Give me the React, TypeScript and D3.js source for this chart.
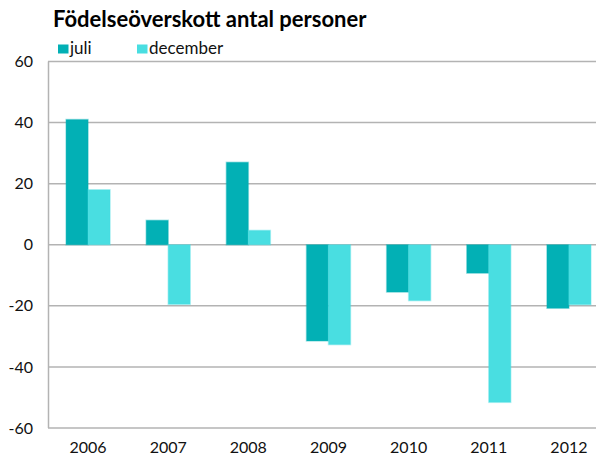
import { useEffect, useRef } from 'react';
import * as d3 from 'd3';

const years = ['2006', '2007', '2008', '2009', '2010', '2011', '2012'];
const juli = [41, 8, 27, -31.5, -15.5, -9.3, -20.8];
const december = [18, -19.5, 4.7, -32.7, -18.3, -51.6, -19.6];
const yTicks = [-60, -40, -20, 0, 20, 40, 60];
const seriesNames = ['juli', 'december'];
const colors = ['#02B0B5', '#49DEE1'];

export default function App() {
  const svgRef = useRef<SVGSVGElement>(null);

  useEffect(() => {
    const width = 596;
    const height = 457;
    const font = 'Lato, "Open Sans", sans-serif';

    const svg = d3.select(svgRef.current);
    svg.selectAll('*').remove();
    svg.attr('width', width).attr('height', height);

    // plot runs a bit past the right edge, like the original crop
    const x = d3.scaleBand().domain(years).range([48, 609]).paddingInner(0).paddingOuter(0);
    const y = d3.scaleLinear().domain([-60, 60]).range([428, 61.5]);

    const groupW = 44;
    const inner = d3.scaleBand().domain(seriesNames).range([0, groupW]);

    // gridlines
    svg
      .append('g')
      .selectAll('line')
      .data(yTicks)
      .enter()
      .append('line')
      .attr('x1', 48)
      .attr('x2', width)
      .attr('y1', (d) => y(d))
      .attr('y2', (d) => y(d))
      .attr('stroke', '#b3b3b3')
      .attr('stroke-width', 1.5);

    // y axis line
    svg
      .append('line')
      .attr('x1', 48.5)
      .attr('x2', 48.5)
      .attr('y1', y(60))
      .attr('y2', y(-60))
      .attr('stroke', '#b3b3b3')
      .attr('stroke-width', 1.5);

    // y labels
    svg
      .append('g')
      .selectAll('text')
      .data(yTicks)
      .enter()
      .append('text')
      .attr('x', 33)
      .attr('y', (d) => y(d))
      .attr('dy', '0.35em')
      .attr('text-anchor', 'end')
      .style('font-family', font)
      .style('font-size', '16px')
      .attr('fill', '#111')
      .text((d) => String(d));

    // x labels
    svg
      .append('g')
      .selectAll('text')
      .data(years)
      .enter()
      .append('text')
      .attr('x', (d) => (x(d) as number) + x.bandwidth() / 2)
      .attr('y', 453)
      .attr('text-anchor', 'middle')
      .style('font-family', font)
      .style('font-size', '16px')
      .attr('fill', '#111')
      .text((d) => d);

    // bars
    const series = [juli, december];
    series.forEach((vals, si) => {
      svg
        .append('g')
        .selectAll('rect')
        .data(vals)
        .enter()
        .append('rect')
        .attr('x', (_, i) => (x(years[i]) as number) + (x.bandwidth() - groupW) / 2 + (inner(seriesNames[si]) as number))
        .attr('width', inner.bandwidth())
        .attr('y', (d) => y(Math.max(0, d)))
        .attr('height', (d) => Math.abs(y(d) - y(0)))
        .attr('fill', colors[si])
        .attr('stroke', colors[si])
        .attr('stroke-opacity', 0.35)
        .attr('stroke-width', 1.5);
    });

    // title
    svg
      .append('text')
      .attr('x', 53)
      .attr('y', 27)
      .style('font-family', font)
      .style('font-size', '22px')
      .style('font-weight', 'bold')
      .attr('fill', '#000')
      .text('Födelseöverskott antal personer');

    // legend
    const legendX = [58, 137];
    seriesNames.forEach((name, i) => {
      svg
        .append('rect')
        .attr('x', legendX[i])
        .attr('y', 44.5)
        .attr('width', 10.5)
        .attr('height', 9)
        .attr('fill', colors[i]);
      svg
        .append('text')
        .attr('x', legendX[i] + 12)
        .attr('y', 53.5)
        .style('font-family', font)
        .style('font-size', '17px')
        .attr('fill', '#111')
        .text(name);
    });
  }, []);

  return (
    <div style={{ position: 'absolute', left: 0, top: 0 }}>
      <svg ref={svgRef} style={{ display: 'block' }}></svg>
    </div>
  );
}
